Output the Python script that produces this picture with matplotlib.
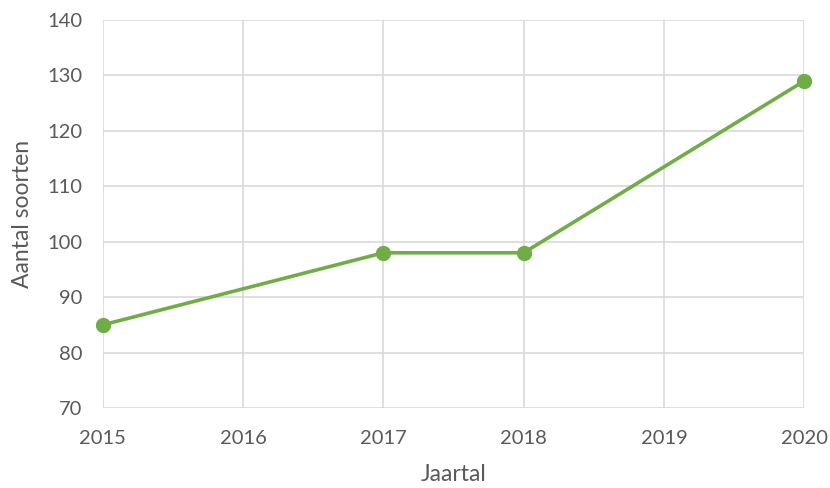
import numpy as np
import matplotlib
matplotlib.use("Agg")
import matplotlib.pyplot as plt

# data
years = [2015, 2017, 2018, 2020]
soorten = [85, 98, 98, 129]
xticks = [2015, 2016, 2017, 2018, 2019, 2020]
yticks = [70, 80, 90, 100, 110, 120, 130, 140]

plt.rcParams['font.family'] = ['Lato', 'DejaVu Sans']

fig = plt.figure(figsize=(8.3, 4.88), dpi=100)
ax = fig.add_axes([0.124, 0.164, 0.845, 0.795])

ax.plot(years, soorten, color="#70ad47", linewidth=2.6,
        marker="o", markersize=10, clip_on=False, zorder=3)

ax.set_xlim(2015, 2020)
ax.set_ylim(70, 140)
ax.set_xticks(xticks)
ax.set_yticks(yticks)
ax.grid(True, color="#d9d9d9", linewidth=1.2)
ax.set_axisbelow(True)
for s in ax.spines.values():
    s.set_visible(False)
ax.tick_params(axis="x", length=0, labelsize=14.5, labelcolor="#595959", pad=16)
ax.tick_params(axis="y", length=0, labelsize=14.5, labelcolor="#595959", pad=15)

ax.set_xlabel("Jaartal", fontsize=16.5, color="#595959", labelpad=12)
ax.set_ylabel("Aantal soorten", fontsize=16.5, color="#595959", labelpad=10)

plt.savefig("out.png", dpi=100)
